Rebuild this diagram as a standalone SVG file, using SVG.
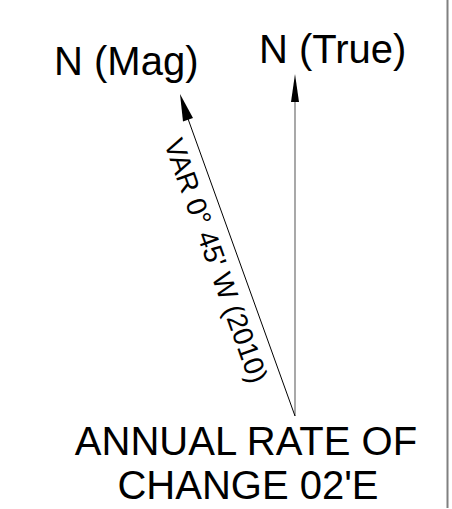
<svg xmlns="http://www.w3.org/2000/svg" width="452" height="509" viewBox="0 0 452 509">
<style>
.t{font-family:"Liberation Sans",Arial,sans-serif;fill:#000}
.big{font-size:40px}
.rot{font-size:28px}
</style>
<rect width="452" height="509" fill="#fff"/>
<g id="frame"><line x1="447.5" y1="0" x2="447.5" y2="508" stroke="#808080" stroke-width="2"/></g>
<g id="connectors">
<line x1="295" y1="416" x2="295" y2="100" stroke="#7a7a7a" stroke-width="1.3"/>
<polygon points="295,74 299,102 291,102" fill="#000"/>
<line x1="295" y1="416" x2="187" y2="116" stroke="#000" stroke-width="1"/>
<polygon points="180,94 193,118 183,121.5" fill="#000"/>
</g>
<g id="mag"><text class="t big" x="54" y="75">N (Mag)</text></g>
<g id="true"><text class="t big" x="259" y="63">N (True)</text></g>
<g id="var"><text class="t rot" text-anchor="middle" transform="translate(207,264) rotate(70.35)">VAR 0° 45' W (2010)</text></g>
<g id="rate"><text class="t big" text-anchor="middle" x="246" y="455">ANNUAL RATE OF</text><text class="t big" text-anchor="middle" x="248" y="499">CHANGE 02'E</text></g>
</svg>
